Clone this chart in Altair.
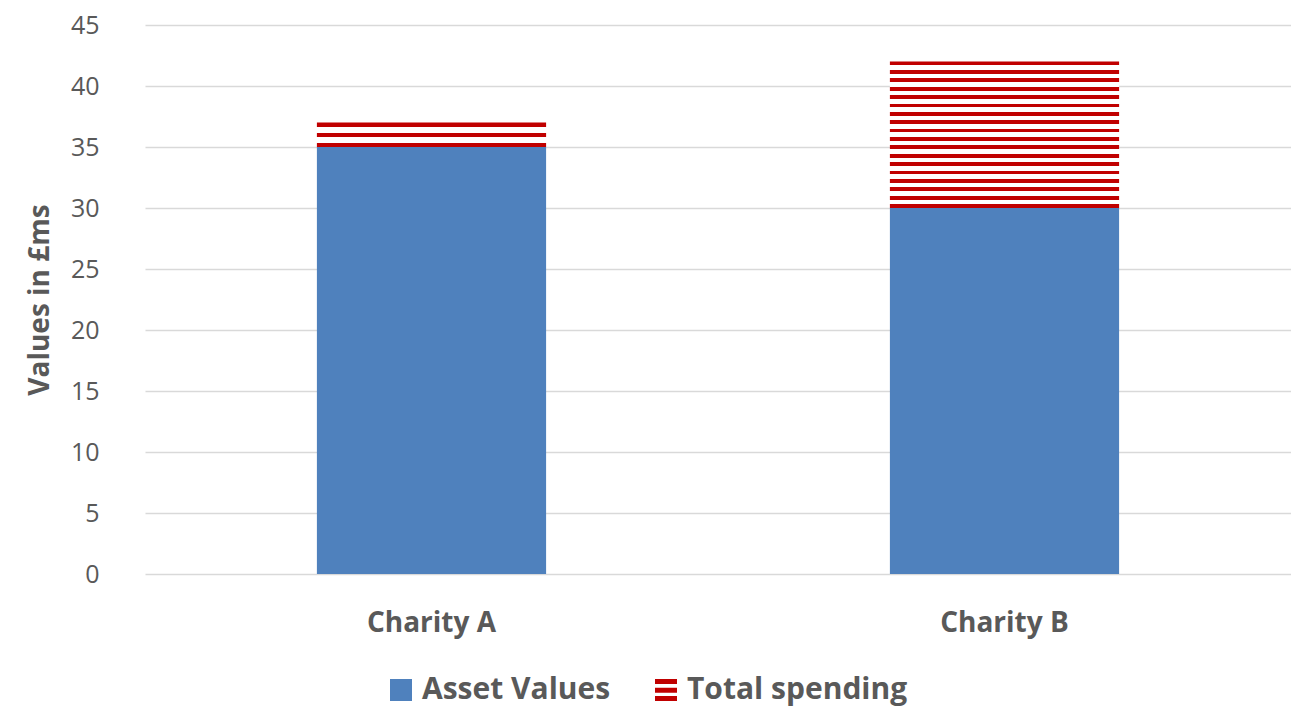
import altair as alt
import pandas as pd

categories = ["Charity A", "Charity B"]
asset_values = [35, 30]
total_spending = [2, 12]
series = ["Asset Values", "Total spending"]

# style
BLUE = "#4F81BD"
RED = "#C00000"
TEXT = "#595959"
GRID = "#D9D9D9"
FONT = "Open Sans"
stripe_counts = [3, 18]
RED_FRACTION = 0.45
STRIPE_PATH = "M-1,-1H1V-0.55H-1Z M-1,-0.2H1V0.25H-1Z M-1,0.55H1V1H-1Z"


def stripes(n, frac=RED_FRACTION):
    period = 1.0 / (n - (1 - frac))
    stops = []
    for i in range(n):
        s = i * period
        e = min(1.0, s + frac * period)
        stops.append(alt.GradientStop(color=RED, offset=round(s, 5)))
        stops.append(alt.GradientStop(color=RED, offset=round(e, 5)))
        if i < n - 1:
            stops.append(alt.GradientStop(color="#FFFFFF", offset=round(e, 5)))
            stops.append(alt.GradientStop(color="#FFFFFF", offset=round((i + 1) * period, 5)))
    return alt.LinearGradient(gradient="linear", stops=stops, x1=0, x2=0, y1=0, y2=1)


df = pd.DataFrame({"category": categories, "asset": asset_values, "spending": total_spending})
base = alt.Chart(df).transform_calculate(total="datum.asset + datum.spending")

X = alt.X(
    "category:N",
    sort=categories,
    scale=alt.Scale(paddingInner=0.6, paddingOuter=0.3),
    axis=alt.Axis(
        title=None, labelAngle=0, domain=False, ticks=False, labelPadding=35,
        labelFontSize=28, labelFontWeight="bold", labelColor=TEXT, labelFont=FONT,
    ),
)

asset_bars = base.mark_bar(fill=BLUE).encode(
    x=X,
    y=alt.Y(
        "asset:Q",
        scale=alt.Scale(domain=[0, 45]),
        axis=alt.Axis(
            title="Values in £ms", values=list(range(0, 50, 5)), domain=False, ticks=False,
            grid=True, gridColor=GRID, gridWidth=1.5,
            labelFontSize=25, labelColor=TEXT, labelFont=FONT, labelPadding=46,
            titleFontSize=28, titleFontWeight="bold", titleColor=TEXT, titleFont=FONT,
            titlePadding=16,
        ),
    ),
)

layers = [asset_bars]
for cat, n in zip(categories, stripe_counts):
    layers.append(
        base.transform_filter(alt.datum.category == cat)
        .mark_bar(fill=stripes(n))
        .encode(x=X, y=alt.Y("asset:Q"), y2="total:Q")
    )

leg = alt.Legend(
    title=None, orient="none", legendX=241, legendY=650, direction="horizontal",
    symbolSize=484, symbolOpacity=1, symbolStrokeWidth=0,
    labelFontSize=30, labelFontWeight="bold", labelColor=TEXT, labelFont=FONT,
    labelLimit=0, columnPadding=40, labelOffset=6,
)
legend_layer = alt.Chart(pd.DataFrame({"series": series})).mark_point(filled=True, opacity=0).encode(
    x=alt.value(0),
    y=alt.value(0),
    color=alt.Color("series:N", scale=alt.Scale(domain=series, range=[BLUE, RED]), legend=leg),
    shape=alt.Shape("series:N", scale=alt.Scale(domain=series, range=["square", STRIPE_PATH]), legend=leg),
)
layers.append(legend_layer)

chart = (
    alt.layer(*layers)
    .properties(
        width=1146, height=549,
        autosize=alt.AutoSizeParams(type="none"),
        padding={"left": 145, "top": 25, "right": 0, "bottom": 135},
        background="white",
    )
    .configure_view(stroke=None)
)

chart.save("out.html", embed_options={"renderer": "svg", "actions": False})
